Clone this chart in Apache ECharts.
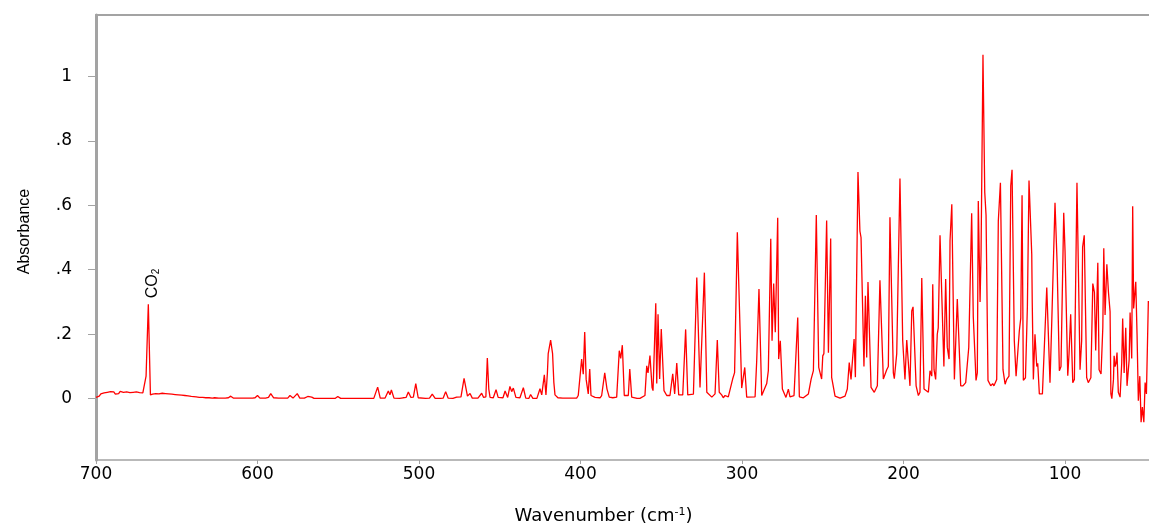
<!DOCTYPE html>
<html><head><meta charset="utf-8">
<script src="https://cdn.jsdelivr.net/npm/echarts@6/dist/echarts.min.js"></script>
<style>html,body{margin:0;padding:0;background:#fff}#c{width:1149px;height:525px}</style>
</head><body><div id="c"></div>
<script>
// [wavenumber (cm-1), absorbance]
const segCO2Region = [[700,0.004],[699,0.010],[698,0.008],[697,0.015],[696,0.011],[695,0.018],[694,0.013],[693,0.020],[692,0.016],[691,0.022],[690,0.017],[689,0.021],[688,0.014],[687,0.019],[686,0.016],[685,0.023],[684,0.017],[683,0.020],[682,0.015],[681,0.021],[680,0.016],[679,0.019],[678,0.013],[677,0.020],[676,0.017],[675,0.021],[674,0.015],[673,0.019],[672,0.016],[671,0.018],[670,0.017],[669,0.07],[667.6,0.293],[666.3,0.012],[665,0.014],[664,0.011],[663,0.016],[662,0.013],[661,0.015],[660,0.012],[659,0.017],[658,0.014],[657,0.016],[656,0.013],[655,0.015],[654,0.011],[653,0.014],[652,0.012],[651,0.013],[650,0.010],[649,0.012],[648,0.009],[647,0.011],[646,0.008],[645,0.010],[644,0.007],[643,0.009],[642,0.006],[641,0.007],[640,0.005],[638,0.006],[636,0.004],[634,0.004],[632,0.003],[630,0.003],[628,0.002],[626.5,0.003],[625.3,0.006],[624,0.002],[622,0.002],[620,0.002],[618,0.003],[616.6,0.008],[615,0.002],[612,0.002],[609,0.002],[606,0.002],[603,0.002],[601.5,0.003],[600,0.010],[598.5,0.002],[595,0.002],[593.2,0.004],[591.8,0.016],[590,0.003],[587,0.002],[585.5,0.002],[584.4,0.005],[583,0.002],[581.3,0.002],[579.9,0.010],[578,0.002],[576.8,0.003],[575.4,0.016],[573.8,0.002],[571,0.002],[568.9,0.007],[567.8,0.002],[566.4,0.005],[565,0.001],[560,0.001],[555,0.001],[552,0.001],[550.3,0.007],[548.5,0.001],[547,0.001],[545.8,0.004],[544.5,0.001],[540,0.001]];

const segMid = [[537,0.001],[535.9,0.004],[534.5,0.001],[528,0.001],[527,0.003],[525.6,0.036],[524,0.002],[521,0.002],[520,0.008],[519,0.024],[518,0.012],[517.1,0.027],[515.5,0.002],[512,0.001],[509.9,0.003],[508,0.004],[506.6,0.021],[505,0.004],[503.5,0.005],[502,0.047],[500.5,0.003],[496,0.001],[493.5,0.002],[491.8,0.014],[490,0.001],[487,0.001],[485.9,0.005],[485,0.002],[483.5,0.022],[482,0.002],[479,0.001],[476.7,0.005],[475.5,0.002],[474,0.006],[472.1,0.063],[470,0.008],[468.4,0.016],[467,0.002],[465.3,0.002],[463.5,0.002],[462.3,0.006],[461.2,0.017],[460,0.004],[458.6,0.006],[457.7,0.126],[456.8,0.03],[456,0.004],[454,0.003],[452.3,0.028],[451,0.004],[449.8,0.002],[448,0.003],[446.7,0.024],[445.1,0.004],[443.7,0.038],[442.6,0.022],[441.6,0.033],[440,0.004],[437.5,0.003],[435.4,0.034],[433.9,0.002],[432,0.001],[430.9,0.013],[429.5,0.001],[427,0.001],[425.1,0.031],[424,0.012],[422.4,0.074],[421.4,0.012],[420.5,0.08],[420,0.14],[418.5,0.182],[417.3,0.14],[416.5,0.05],[415.8,0.012],[414,0.003],[411,0.002],[408,0.002],[405,0.002],[402.4,0.002]];

const segHigh = [[401.4,0.010],[399.3,0.123],[398.3,0.076],[397.4,0.207],[396.5,0.06],[395.2,0.015],[394.3,0.092],[393.5,0.010],[391,0.004],[387.9,0.003],[386.9,0.010],[385,0.08],[383.6,0.03],[382.2,0.005],[380,0.003],[377.6,0.005],[376,0.149],[375.1,0.125],[374.1,0.166],[372.9,0.010],[370.4,0.010],[369.5,0.092],[368.3,0.005],[365,0.001],[363.2,0.001],[360.1,0.010],[359,0.102],[358.2,0.080],[357,0.134],[355.7,0.035],[355.1,0.025],[353.4,0.296],[352.8,0.047],[352,0.262],[351,0.061],[350,0.216],[348.3,0.025],[346.6,0.010],[344.6,0.010],[342.9,0.077],[341.7,0.015],[340.4,0.111],[339.2,0.012],[336.7,0.012],[334.9,0.215],[333.6,0.012],[330.1,0.014],[328,0.376],[326,0.035],[325,0.04],[323.3,0.391],[321.8,0.02],[318.7,0.005],[316.7,0.015],[315.3,0.182],[314.1,0.02],[312.6,0.012],[311.6,0.003],[310.5,0.010],[308.5,0.006],[305.8,0.061],[304.6,0.081],[302.9,0.516],[300.2,0.033],[299.2,0.035],[298.3,0.097],[297.1,0.005],[291.9,0.006],[290.9,0.118],[289.5,0.34],[287.8,0.01],[284.7,0.047],[283.7,0.087],[282.2,0.496],[281.4,0.18],[280.4,0.357],[279.4,0.206],[278.8,0.20],[277.9,0.561],[277.3,0.123],[276.3,0.18],[275,0.03],[272.8,0.004],[271.3,0.03],[270.3,0.006],[267.8,0.01],[265.5,0.252],[264.5,0.006],[262,0.003],[258.9,0.015],[257.2,0.061],[255.8,0.087],[254,0.57],[252.5,0.097],[250.7,0.061],[250,0.133]];

const segFar = [[249.3,0.14],[247.6,0.553],[246.5,0.143],[245.1,0.497],[244.5,0.066],[242.4,0.008],[239.3,0.002],[236.2,0.008],[234.8,0.03],[233.6,0.112],[232.5,0.06],[230.6,0.185],[229.8,0.067],[228.2,0.703],[227,0.52],[226.3,0.5],[224.5,0.10],[223.6,0.319],[222.8,0.128],[222,0.362],[220.1,0.035],[218.1,0.02],[216.2,0.04],[214.6,0.367],[212.5,0.061],[210.4,0.09],[209.4,0.10],[208.4,0.563],[206.3,0.08],[205.7,0.062],[204.2,0.14],[202.2,0.683],[200.5,0.18],[199.1,0.06],[198,0.182],[197,0.18],[196,0.04],[194.9,0.272],[194.1,0.285],[192.2,0.04],[190.8,0.01],[189.8,0.02],[188.7,0.374],[187.3,0.03],[184.6,0.02],[183.6,0.087],[182.5,0.07],[181.9,0.355],[181.1,0.09],[180.1,0.06],[179.1,0.2],[178.5,0.22],[177.4,0.507],[175,0.1],[173.9,0.371],[172.9,0.16],[171.8,0.123],[171.2,0.49],[170.1,0.603],[168.5,0.06],[166.7,0.309],[164.6,0.04],[163.2,0.04],[161.5,0.05],[159.6,0.159],[157.8,0.575],[156.8,0.254],[155.9,0.25],[155.1,0.057],[154.3,0.08],[153.7,0.613],[152.6,0.3],[152,0.448],[150.8,1.067],[149.7,0.64],[148.9,0.57],[147.7,0.057],[146,0.04],[144.8,0.047],[144,0.04],[142.3,0.06],[141.3,0.551],[140,0.67],[138.4,0.09],[137.1,0.045],[136.1,0.06],[134.7,0.07],[133.6,0.66],[132.8,0.71],[131.4,0.18],[130.3,0.07],[129.3,0.076],[128.3,0.21],[127.4,0.25],[126.6,0.631],[125.8,0.057],[124.5,0.065],[123.3,0.285],[122.3,0.677],[120.6,0.448],[120.3,0.3],[119.6,0.06],[118.6,0.2],[117.5,0.10],[116.9,0.11],[115.9,0.015],[114,0.015],[112.8,0.02],[111.3,0.345],[109.3,0.05],[108.2,0.24],[107.3,0.24],[106.2,0.608],[104.9,0.42],[103.5,0.087],[102.5,0.1],[100.8,0.577],[100,0.46],[98.3,0.071],[97.5,0.14],[96.5,0.262],[95.2,0.05],[94.2,0.06],[92.6,0.67],[90.7,0.09],[89.7,0.18],[89.1,0.47],[88.1,0.507],[86.6,0.066],[85.6,0.05],[84.6,0.045],[84,0.065],[82.8,0.357],[81.8,0.33],[81,0.15],[79.7,0.422],[78.9,0.09],[77.7,0.077],[76.6,0.22],[76,0.467],[75.2,0.26],[74.1,0.417],[73.1,0.33],[72.1,0.27],[71.6,0.015],[71,0.0],[70,0.06],[69.6,0.133],[69,0.1],[68.4,0.11],[67.8,0.143],[67,0.02],[65.9,0.005],[64.9,0.11],[64.3,0.249],[63.4,0.08],[62.4,0.22],[61.6,0.04],[60.3,0.12],[59.7,0.267],[58.7,0.125],[58.1,0.597],[57.5,0.28],[56.2,0.363],[55.4,0.2],[54.6,-0.006],[53.7,0.07],[52.9,-0.073],[52.1,-0.026],[51.2,-0.073],[50.4,0.05],[49.6,0.015],[48.4,0.303]];

const xTicks = [700, 600, 500, 400, 300, 200, 100];
const yTicks = [0, 0.2, 0.4, 0.6, 0.8, 1];
const co2Peak = [667.6, 0.293];

const spectrum = segCO2Region.concat(segMid, segHigh, segFar);
const axisGray = '#a3a3a3';

const chart = echarts.init(document.getElementById('c'), null, {renderer: 'canvas'});
chart.setOption({
  animation: false,
  backgroundColor: '#ffffff',
  grid: {left: 96, right: 0, top: 15, bottom: 65, containLabel: false, outerBoundsMode: 'none'},
  xAxis: [{
    type: 'value', min: 48, max: 700, inverse: true, position: 'bottom',
    axisLine: {onZero: false, lineStyle: {color: axisGray, width: 1.5}},
    axisTick: {customValues: xTicks, length: 4, lineStyle: {color: axisGray, width: 1}},
    axisLabel: {customValues: xTicks, margin: 6, fontSize: 17, color: '#000', fontFamily: 'DejaVu Sans',
      formatter: v => String(Math.round(v))},
    splitLine: {show: false},
    name: 'Wavenumber (cm{sup|-1})', nameLocation: 'middle', nameGap: 47,
    nameTextStyle: {fontSize: 18, color: '#000', fontFamily: 'DejaVu Sans', padding: [0, 38, 0, 0],
      rich: {sup: {fontSize: 11, fontFamily: 'DejaVu Sans', color: '#000', padding: [0, 0, 8, 0]}}}
  }, {
    type: 'value', min: 48, max: 700, inverse: true, position: 'top',
    axisLine: {show: true, onZero: false, lineStyle: {color: axisGray, width: 2}},
    axisTick: {show: false}, axisLabel: {show: false}, splitLine: {show: false}
  }],
  yAxis: {
    type: 'value', min: -0.19, max: 1.19,
    axisLine: {show: true, onZero: false, lineStyle: {color: axisGray, width: 3}},
    axisTick: {customValues: yTicks, length: 8, lineStyle: {color: axisGray, width: 1}},
    axisLabel: {customValues: yTicks, margin: 24, fontSize: 17, color: '#000', fontFamily: 'DejaVu Sans',
      formatter: v => { if (Math.abs(v) < 1e-9) return '0'; if (Math.abs(v - 1) < 1e-9) return '1'; return '.' + Math.round(v * 10); }},
    splitLine: {show: false},
    name: 'Absorbance', nameLocation: 'middle', nameGap: 63,
    nameTextStyle: {fontSize: 16, color: '#000', fontFamily: 'Liberation Sans', padding: [0, 0, 0, 12]}
  },
  series: [{
    type: 'line', xAxisIndex: 0, yAxisIndex: 0, data: spectrum,
    showSymbol: false, symbol: 'none', lineStyle: {color: '#ff0000', width: 1.3}, z: 3
  }]
});

const p = chart.convertToPixel({xAxisIndex: 0, yAxisIndex: 0}, co2Peak);
chart.setOption({
  graphic: [{
    type: 'text', x: p[0] + 4, y: p[1] - 6, rotation: Math.PI / 2,
    style: {
      text: 'CO{s|2}', fontSize: 16, fontFamily: 'Liberation Sans', fill: '#000',
      align: 'left', verticalAlign: 'middle',
      rich: {s: {fontSize: 10, fontFamily: 'Liberation Sans', fill: '#000', padding: [7, 0, 0, 0]}}
    }
  }]
});
</script>
</body></html>
